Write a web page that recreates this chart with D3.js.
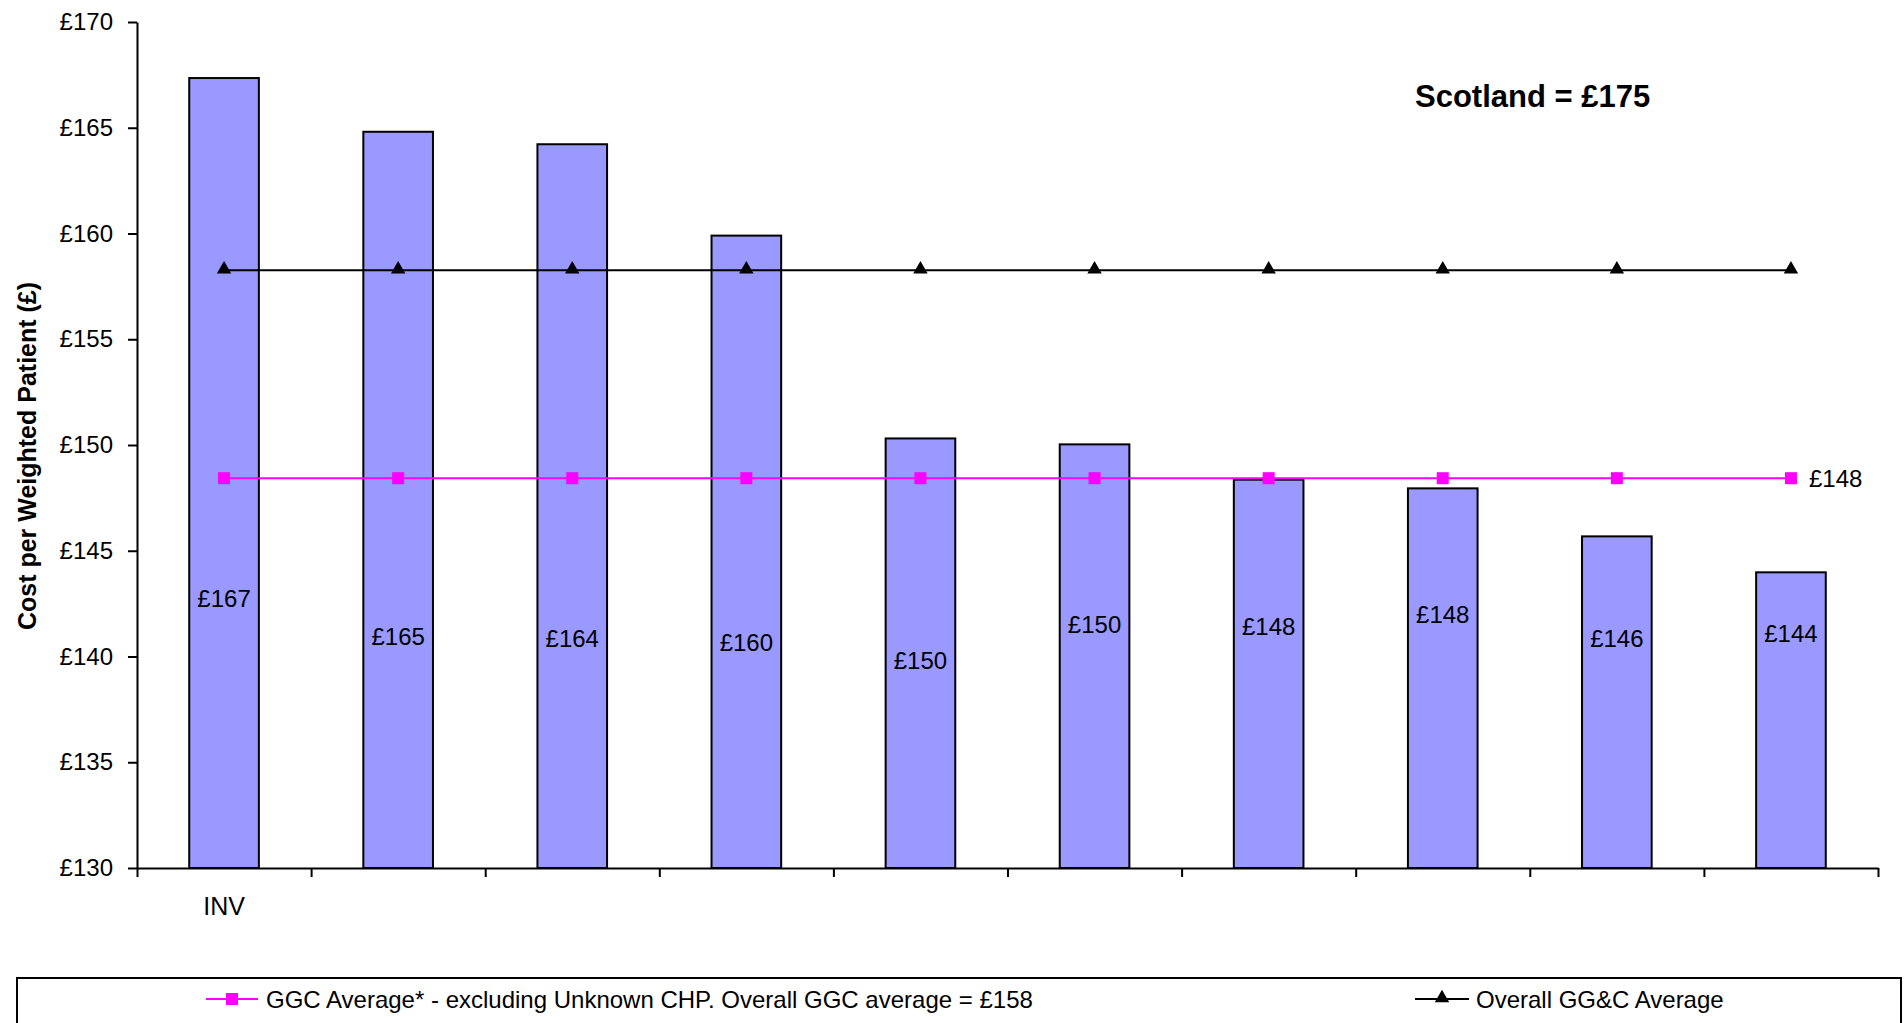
<!DOCTYPE html>
<html>
<head>
<meta charset="utf-8">
<script src="https://cdn.jsdelivr.net/npm/d3@7"></script>
<style>
  html, body { margin: 0; padding: 0; background: #fff; }
  svg { display: block; font-family: "Liberation Sans", Arial, sans-serif; }
</style>
</head>
<body>
<svg id="chart" width="1904" height="1023"></svg>
<script>
// ---- data ----
const categories = ["INV", "", "", "", "", "", "", "", "", ""];
const costValues = [167.35, 164.81, 164.22, 159.9, 150.31, 150.03, 148.36, 147.95, 145.68, 143.98];
const costLabels = ["£167", "£165", "£164", "£160", "£150", "£150", "£148", "£148", "£146", "£144"];
const labelAnchorValues = [142.74, 140.96, 140.84, 140.67, 139.81, 141.53, 141.41, 141.99, 140.84, 141.07];
const ggcAverageExclUnknown = [148.43, 148.43, 148.43, 148.43, 148.43, 148.43, 148.43, 148.43, 148.43, 148.43];
const overallGGCAverage = [158.26, 158.26, 158.26, 158.26, 158.26, 158.26, 158.26, 158.26, 158.26, 158.26];
const yTickValues = [130, 135, 140, 145, 150, 155, 160, 165, 170];
const ggcEndLabel = "£148";
const scotlandNote = "Scotland = £175";
const yAxisTitle = "Cost per Weighted Patient (£)";
const legendLabels = ["GGC Average* - excluding Unknown CHP. Overall GGC average = £158", "Overall GG&C Average"];

// ---- layout ----
const svg = d3.select("#chart");
const plot = { left: 137, right: 1878, top: 22, bottom: 868 };
const n = categories.length;

const y = d3.scaleLinear().domain([130, 170]).range([plot.bottom, plot.top]);
const x = d3.scaleBand().domain(d3.range(n)).range([plot.left, plot.right])
  .paddingInner(0.6).paddingOuter(0.3);
const xBound = d3.scaleLinear().domain([0, n]).range([plot.left, plot.right]);
const cx = i => x(i) + x.bandwidth() / 2;

// bars
svg.append("g").selectAll("rect").data(costValues).join("rect")
  .attr("x", (d, i) => x(i))
  .attr("y", d => y(d))
  .attr("width", x.bandwidth())
  .attr("height", d => y(130) - y(d))
  .attr("fill", "#9999FF")
  .attr("stroke", "#000")
  .attr("stroke-width", 2);

// bar labels
svg.append("g").selectAll("text").data(costLabels).join("text")
  .attr("x", (d, i) => cx(i))
  .attr("y", (d, i) => y(labelAnchorValues[i]))
  .attr("text-anchor", "middle")
  .attr("dominant-baseline", "central")
  .attr("font-size", 24)
  .attr("fill", "#000")
  .text(d => d);

// axes
const yAxis = d3.axisLeft(y).tickValues(yTickValues).tickFormat(d => "£" + d)
  .tickSize(9).tickSizeOuter(0).tickPadding(15);
const gy = svg.append("g").attr("transform", `translate(${plot.left},0)`).call(yAxis);
gy.selectAll("text").attr("font-size", 24).attr("fill", "#000").attr("font-family", null);
gy.selectAll("line, path").attr("stroke", "#000").attr("stroke-width", 2);

const xAxis = d3.axisBottom(xBound).tickValues(d3.range(0, n + 1)).tickFormat("")
  .tickSize(9).tickSizeOuter(0);
const gx = svg.append("g").attr("transform", `translate(0,${plot.bottom})`).call(xAxis);
gx.selectAll("line, path").attr("stroke", "#000").attr("stroke-width", 2);

// category labels
svg.append("g").selectAll("text").data(categories).join("text")
  .attr("x", (d, i) => cx(i))
  .attr("y", plot.bottom + 38)
  .attr("text-anchor", "middle")
  .attr("dominant-baseline", "central")
  .attr("font-size", 25)
  .attr("fill", "#000")
  .text(d => d);

// y axis title
svg.append("text")
  .attr("transform", `translate(27,456) rotate(-90)`)
  .attr("text-anchor", "middle")
  .attr("dominant-baseline", "central")
  .attr("font-size", 25)
  .attr("font-weight", "bold")
  .text(yAxisTitle);

// lines
const line = d3.line().x((d, i) => cx(i)).y(d => y(d));
svg.append("path").datum(overallGGCAverage).attr("d", line)
  .attr("fill", "none").attr("stroke", "#000").attr("stroke-width", 2);
svg.append("path").datum(ggcAverageExclUnknown).attr("d", line)
  .attr("fill", "none").attr("stroke", "#FF00FF").attr("stroke-width", 2);

const tri = d3.symbol().type(d3.symbolTriangle).size(90);
svg.append("g").selectAll("path").data(overallGGCAverage).join("path")
  .attr("transform", (d, i) => `translate(${cx(i)},${y(d) - 1})`)
  .attr("d", tri).attr("fill", "#000");

svg.append("g").selectAll("rect").data(ggcAverageExclUnknown).join("rect")
  .attr("x", (d, i) => cx(i) - 6)
  .attr("y", d => y(d) - 6)
  .attr("width", 12).attr("height", 12)
  .attr("fill", "#FF00FF");

// end label for GGC average
svg.append("text")
  .attr("x", cx(n - 1) + 18)
  .attr("y", y(ggcAverageExclUnknown[n - 1]))
  .attr("dominant-baseline", "central")
  .attr("font-size", 24)
  .text(ggcEndLabel);

// Scotland note
svg.append("text")
  .attr("x", 1415).attr("y", 107)
  .attr("font-size", 31).attr("font-weight", "bold")
  .text(scotlandNote);

// legend
svg.append("rect")
  .attr("x", 17).attr("y", 978).attr("width", 1884).attr("height", 70)
  .attr("fill", "#fff").attr("stroke", "#000").attr("stroke-width", 2);

const legY = 999;
// entry 1
svg.append("line").attr("x1", 206).attr("x2", 258).attr("y1", legY).attr("y2", legY)
  .attr("stroke", "#FF00FF").attr("stroke-width", 2);
svg.append("rect").attr("x", 232 - 6).attr("y", legY - 6).attr("width", 12).attr("height", 12)
  .attr("fill", "#FF00FF");
svg.append("text").attr("x", 266).attr("y", legY).attr("dominant-baseline", "central")
  .attr("font-size", 24).text(legendLabels[0]);
// entry 2
svg.append("line").attr("x1", 1415).attr("x2", 1469).attr("y1", legY).attr("y2", legY)
  .attr("stroke", "#000").attr("stroke-width", 2);
svg.append("path").attr("transform", `translate(1442,${legY - 1})`).attr("d", tri).attr("fill", "#000");
svg.append("text").attr("x", 1476).attr("y", legY).attr("dominant-baseline", "central")
  .attr("font-size", 24).text(legendLabels[1]);
</script>
</body>
</html>
